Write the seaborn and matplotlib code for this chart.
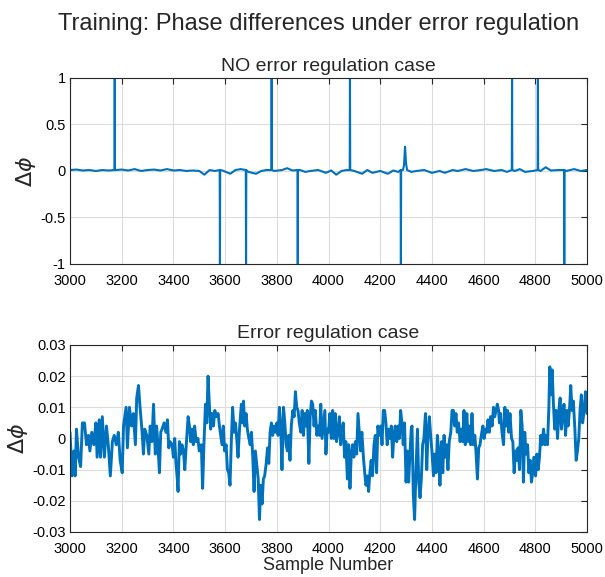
import numpy as np
import pandas as pd
import matplotlib
matplotlib.use("Agg")
import matplotlib.pyplot as plt
import seaborn as sns

# ---------------- data ----------------
# Top panel: baseline (small drift) and phase-wrap spikes
top_base_x = [3000, 3025, 3050, 3075, 3100, 3125, 3150, 3175, 3200, 3225, 3250, 3275, 3300,
              3325, 3350, 3375, 3400, 3425, 3450, 3475, 3500, 3520, 3540, 3560, 3590, 3620,
              3640, 3660, 3690, 3720, 3740, 3760, 3790, 3820, 3840, 3860, 3890, 3910, 3930,
              3960, 3990, 4010, 4030, 4050, 4070, 4100, 4130, 4150, 4170, 4200, 4230, 4250,
              4270, 4288, 4292, 4300, 4304, 4320, 4340, 4370, 4400, 4430, 4450, 4480, 4500,
              4530, 4560, 4590, 4610, 4640, 4670, 4690, 4720, 4740, 4760, 4790, 4820, 4840,
              4860, 4890, 4920, 4950, 4975, 5000]
top_base_y = [0.01, 0.015, 0.005, 0.01, 0.0, 0.01, 0.005, 0.01, 0.015, 0.005, 0.02, 0.0, 0.01,
              0.015, 0.005, 0.02, 0.005, 0.01, 0.0, 0.005, 0.0, -0.04, 0.01, 0.0, 0.005, -0.03,
              0.01, 0.02, -0.01, -0.03, 0.0, 0.01, 0.0, 0.01, 0.03, 0.005, 0.01, -0.01, 0.0,
              0.01, -0.02, 0.005, -0.04, 0.0, 0.01, 0.0, -0.03, 0.01, -0.02, 0.0, -0.03, 0.005,
              -0.01, 0.01, 0.06, 0.08, 0.01, -0.01, 0.0, 0.01, -0.02, 0.0, -0.02, 0.01, 0.0,
              0.02, 0.0, 0.01, 0.02, 0.0, 0.01, -0.01, 0.0, 0.02, -0.01, 0.0, 0.0, 0.04,
              0.005, 0.01, 0.0, 0.02, 0.0, 0.01]
spike_x = [3173, 3580, 3681, 3780, 3881, 4083, 4280, 4296, 4710, 4810, 4912]
spike_y = [1.0, -1.0, -1.0, 1.0, -1.0, 1.0, -1.0, 0.26, 1.0, 1.0, -1.0]

# Bottom panel: phase difference with error regulation
bot_x = [3000, 3008, 3015, 3020, 3025, 3033, 3041, 3048, 3056, 3064, 3071, 3077, 3084, 3092,
         3100, 3105, 3113, 3118, 3125, 3133, 3141, 3148, 3156, 3164, 3171, 3179, 3187, 3194,
         3202, 3207, 3217, 3222, 3230, 3238, 3245, 3253, 3258, 3265, 3271, 3279, 3284, 3289,
         3297, 3305, 3310, 3317, 3323, 3330, 3335, 3340, 3346, 3351, 3356, 3364, 3371, 3377,
         3382, 3387, 3395, 3400, 3405, 3410, 3415, 3418, 3423, 3428, 3433, 3439, 3444, 3449,
         3457, 3462, 3467, 3472, 3477, 3482, 3488, 3495, 3500, 3508, 3513, 3518, 3524, 3529,
         3534, 3539, 3544, 3549, 3555, 3560, 3567, 3573, 3578, 3583, 3588, 3593, 3598, 3604,
         3609, 3614, 3619, 3624, 3629, 3635, 3640, 3645, 3650, 3655, 3660, 3663, 3668, 3671,
         3676, 3681, 3686, 3692, 3697, 3702, 3707, 3712, 3717, 3722, 3728, 3733, 3738, 3743,
         3748, 3753, 3759, 3764, 3769, 3774, 3779, 3784, 3790, 3795, 3800, 3805, 3810, 3815,
         3820, 3826, 3831, 3836, 3841, 3846, 3851, 3856, 3862, 3867, 3872, 3877, 3882, 3887,
         3893, 3898, 3903, 3908, 3913, 3918, 3924, 3929, 3934, 3939, 3944, 3949, 3955, 3960,
         3965, 3970, 3975, 3980, 3986, 3990, 3995, 4000, 4005, 4011, 4016, 4021, 4026, 4031,
         4036, 4042, 4047, 4052, 4057, 4062, 4067, 4073, 4078, 4083, 4088, 4093, 4098, 4104,
         4109, 4114, 4119, 4124, 4129, 4135, 4140, 4145, 4150, 4155, 4160, 4165, 4170, 4176,
         4181, 4186, 4191, 4196, 4202, 4207, 4212, 4217, 4222, 4227, 4232, 4238, 4243, 4248,
         4253, 4258, 4264, 4269, 4274, 4279, 4284, 4289, 4294, 4300, 4305, 4310, 4315, 4320,
         4323, 4328, 4333, 4338, 4344, 4349, 4354, 4359, 4364, 4369, 4375, 4380, 4385, 4390,
         4395, 4400, 4406, 4411, 4416, 4421, 4426, 4431, 4437, 4442, 4447, 4452, 4457, 4462,
         4467, 4473, 4478, 4483, 4488, 4493, 4498, 4503, 4509, 4514, 4519, 4524, 4529, 4535,
         4540, 4545, 4550, 4555, 4560, 4566, 4571, 4576, 4581, 4586, 4591, 4597, 4602, 4607,
         4612, 4617, 4622, 4627, 4633, 4638, 4643, 4648, 4653, 4658, 4661, 4666, 4671, 4677,
         4682, 4687, 4692, 4697, 4702, 4708, 4713, 4718, 4723, 4728, 4733, 4739, 4744, 4749,
         4754, 4759, 4764, 4770, 4775, 4780, 4785, 4790, 4795, 4801, 4806, 4811, 4816, 4821,
         4826, 4832, 4837, 4842, 4847, 4852, 4856, 4860, 4865, 4870, 4875, 4880, 4886, 4891,
         4896, 4901, 4906, 4911, 4917, 4922, 4927, 4932, 4937, 4942, 4947, 4953, 4958, 4963,
         4968, 4973, 4978, 4983, 4989, 4994, 5000]
bot_y = [0.002, -0.012, -0.004, -0.012, 0.003, -0.006, -0.009, 0.005, 0.005, -0.002, 0.001,
         -0.004, 0.002, -0.002, 0.005, -0.006, 0.006, -0.006, 0.007, -0.006, 0.004, -0.002,
         -0.012, -0.001, 0.001, -0.002, 0.002, -0.007, -0.011, 0.004, 0.010, -0.003, 0.010,
         0.004, 0.008, -0.002, 0.013, 0.017, 0.010, 0.002, -0.005, 0.003, 0.001, -0.005,
         0.004, -0.001, 0.011, -0.005, 0.004, -0.002, -0.011, 0.002, 0.003, 0.005, 0.002,
         0.006, -0.003, -0.001, -0.002, -0.006, 0.000, -0.008, -0.013, -0.017, -0.001, -0.005,
         -0.002, -0.004, -0.010, -0.003, 0.007, 0.004, -0.001, 0.003, -0.002, 0.004, -0.001,
         0.000, -0.004, -0.002, -0.016, -0.002, 0.011, 0.005, 0.020, 0.011, 0.003, 0.008,
         0.004, 0.009, 0.007, 0.008, 0.004, 0.001, -0.002, 0.004, -0.004, -0.002, -0.010,
         -0.011, -0.015, -0.001, 0.010, 0.002, 0.005, 0.000, -0.006, 0.002, 0.008, 0.011,
         0.005, 0.012, 0.004, 0.008, 0.003, 0.000, -0.002, 0.002, -0.006, -0.017, -0.004,
         -0.008, -0.013, -0.026, -0.015, -0.021, -0.013, -0.012, -0.008, -0.003, -0.008,
         0.002, 0.005, 0.001, 0.004, 0.002, 0.005, 0.001, 0.010, 0.004, -0.010, 0.010, 0.005,
         -0.002, -0.004, 0.001, -0.007, 0.004, 0.009, 0.007, 0.015, 0.010, 0.009, 0.005,
         0.002, 0.009, 0.001, 0.008, 0.004, 0.009, -0.008, 0.007, 0.012, 0.011, 0.004, 0.009,
         0.001, 0.004, 0.001, 0.011, 0.000, 0.004, 0.009, -0.005, 0.003, 0.002, 0.008, 0.000,
         0.009, 0.000, 0.008, -0.001, 0.002, 0.007, -0.002, 0.002, 0.005, -0.006, -0.001,
         -0.013, -0.002, -0.016, -0.005, -0.002, -0.006, -0.001, -0.005, 0.008, 0.002,
         -0.004, 0.002, -0.006, -0.011, -0.015, -0.012, -0.017, -0.011, -0.007, -0.012,
         -0.002, 0.001, -0.011, 0.004, 0.001, 0.004, -0.002, 0.009, 0.009, 0.005, -0.002,
         0.003, 0.000, 0.004, -0.006, 0.001, 0.004, -0.001, 0.004, 0.000, 0.009, 0.005,
         -0.002, 0.005, -0.014, -0.004, -0.014, -0.005, 0.003, 0.004, -0.018, -0.026, -0.011,
         0.003, -0.014, -0.019, -0.013, -0.002, 0.000, 0.008, -0.010, 0.002, 0.007, 0.001,
         -0.004, -0.012, -0.005, -0.011, 0.001, -0.004, -0.015, -0.001, -0.011, 0.001, -0.006,
         -0.002, -0.010, -0.001, 0.002, 0.009, 0.009, 0.004, 0.008, 0.002, 0.005, -0.001,
         0.003, -0.001, 0.009, -0.002, 0.008, -0.001, 0.004, -0.002, 0.008, -0.002, 0.001,
         -0.005, -0.013, -0.003, -0.002, 0.001, 0.004, 0.000, 0.003, 0.002, 0.006, 0.002,
         0.007, 0.004, 0.010, 0.007, 0.009, 0.011, 0.009, 0.005, 0.008, 0.002, -0.002, 0.010,
         0.004, 0.009, 0.002, 0.008, 0.000, -0.001, -0.011, -0.004, -0.007, -0.003, -0.010,
         0.009, 0.004, -0.014, 0.002, -0.005, -0.002, -0.011, -0.007, -0.014, -0.011, -0.006,
         -0.012, -0.005, -0.010, -0.006, 0.001, -0.002, 0.003, -0.002, 0.001, -0.002, 0.009,
         0.023, 0.014, 0.022, 0.011, 0.003, 0.009, 0.000, 0.009, 0.013, 0.003, 0.008, 0.011,
         0.001, 0.009, 0.004, 0.009, 0.017, 0.009, 0.012, 0.003, -0.007, -0.004, 0.000, 0.009,
         0.014, 0.005, 0.009, 0.015, 0.008]

top_yticks = [-1, -0.5, 0, 0.5, 1]
top_yticklabels = ["-1", "-0.5", "0", "0.5", "1"]
bot_yticks = [-0.03, -0.02, -0.01, 0, 0.01, 0.02, 0.03]
bot_yticklabels = ["-0.03", "-0.02", "-0.01", "0", "0.01", "0.02", "0.03"]
xticks = [3000, 3200, 3400, 3600, 3800, 4000, 4200, 4400, 4600, 4800, 5000]

suptitle_text = "Training: Phase differences under error regulation"
top_title = "NO error regulation case"
bot_title = "Error regulation case"
xlabel_text = "Sample Number"
ylabel_text = r"$\Delta\phi$"

# ---------------- build tables ----------------
top_pts = {x: y for x, y in zip(top_base_x, top_base_y)}
for sx, sy in zip(spike_x, spike_y):
    if abs(sy) >= 1:
        # neighbours of a phase-wrap spike sit on the baseline
        top_pts.setdefault(sx - 1, 0.01)
        top_pts.setdefault(sx + 1, 0.01)
    top_pts[sx] = sy
top_df = pd.DataFrame(sorted(top_pts.items()), columns=["sample", "dphi"])
bot_df = pd.DataFrame({"sample": bot_x, "dphi": bot_y})

# ---------------- style ----------------
sns.set_theme(style="white")
plt.rcParams["font.family"] = ["Liberation Sans", "DejaVu Sans"]
plt.rcParams["axes.unicode_minus"] = False
plt.rcParams["mathtext.fontset"] = "dejavusans"

blue = "#0072BD"
fig = plt.figure(figsize=(6.05, 5.77), dpi=100)
ax1 = fig.add_axes([0.1157, 0.5425, 0.8546, 0.3224])
ax2 = fig.add_axes([0.1157, 0.0780, 0.8546, 0.3241])

sns.lineplot(data=top_df, x="sample", y="dphi", ax=ax1, color=blue, linewidth=1.5,
             estimator=None)
sns.lineplot(data=bot_df, x="sample", y="dphi", ax=ax2, color=blue, linewidth=2.1,
             estimator=None)

for ax, yt, ytl, ttl in [(ax1, top_yticks, top_yticklabels, top_title),
                         (ax2, bot_yticks, bot_yticklabels, bot_title)]:
    ax.set_xlim(3000, 5000)
    ax.set_ylim(yt[0], yt[-1])
    ax.set_xticks(xticks)
    ax.set_xticklabels([str(t) for t in xticks])
    ax.set_yticks(yt)
    ax.set_yticklabels(ytl)
    ax.grid(True, color="#dcdcdc", linewidth=0.8)
    ax.set_axisbelow(True)
    for sp in ax.spines.values():
        sp.set_visible(True)
        sp.set_color("#262626")
        sp.set_linewidth(0.8)
    ax.tick_params(direction="in", top=True, right=True, length=4, width=0.8,
                   labelsize=10.5, colors="#262626")
    ax.tick_params(axis="x", pad=7)
    ax.tick_params(axis="y", pad=3)
    ax.tick_params(axis="both", labelcolor="black")
    ax.set_title(ttl, fontsize=14, pad=5)
    ax.set_ylabel(ylabel_text, fontsize=16, labelpad=2)
    ax.set_xlabel("")

ax2.set_xlabel(xlabel_text, fontsize=13, labelpad=1)
fig.suptitle(suptitle_text, fontsize=17, x=0.527, y=0.977)

fig.savefig("out.png", dpi=100)
